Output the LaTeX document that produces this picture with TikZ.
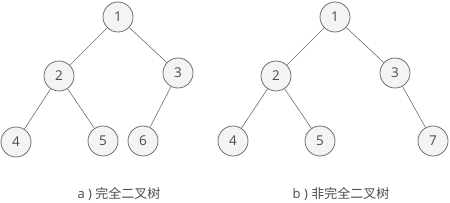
\documentclass[tikz,border=0pt]{standalone}
\usepackage{fontspec}
\setmainfont{Open Sans}
\newfontfamily\cjk{Noto Sans CJK SC}
\definecolor{edgec}{HTML}{6E6E6E}
\definecolor{fillc}{HTML}{F4F4F4}
\definecolor{textc}{HTML}{4A4A4A}
\begin{document}
\begin{tikzpicture}[x=1pt,y=-1pt,
  tn/.style={circle,draw=edgec,fill=fillc,line width=0.8pt,minimum size=30pt,inner sep=0pt,text=textc,font=\fontsize{13.5}{13.5}\selectfont},
  edge/.style={draw=edgec,line width=0.6pt},
  captext/.style={text=textc,font=\fontsize{13}{13}\selectfont}]
\useasboundingbox (0,0) rectangle (450,203);
% tree a
\node[tn] (a1) at (118,17) {1};
\node[tn] (a2) at (59,76) {2};
\node[tn] (a3) at (178,73) {3};
\node[tn] (a4) at (16,142) {4};
\node[tn] (a5) at (103,141) {5};
\node[tn] (a6) at (143,141) {6};
\draw[edge] (a1) -- (a2);
\draw[edge] (a1) -- (a3);
\draw[edge] (a2) -- (a4);
\draw[edge] (a2) -- (a5);
\draw[edge] (a3) -- (a6);
\node[captext] (ca) at (119,194) {a ) {\cjk 完全二叉树}};
% tree b
\node[tn] (b1) at (335,17) {1};
\node[tn] (b2) at (276,76) {2};
\node[tn] (b3) at (395,73) {3};
\node[tn] (b4) at (233,141) {4};
\node[tn] (b5) at (320,141) {5};
\node[tn] (b7) at (433,141) {7};
\draw[edge] (b1) -- (b2);
\draw[edge] (b1) -- (b3);
\draw[edge] (b2) -- (b4);
\draw[edge] (b2) -- (b5);
\draw[edge] (b3) -- (b7);
\node[captext] (cb) at (341,194) {b ) {\cjk 非完全二叉树}};
\end{tikzpicture}
\end{document}
